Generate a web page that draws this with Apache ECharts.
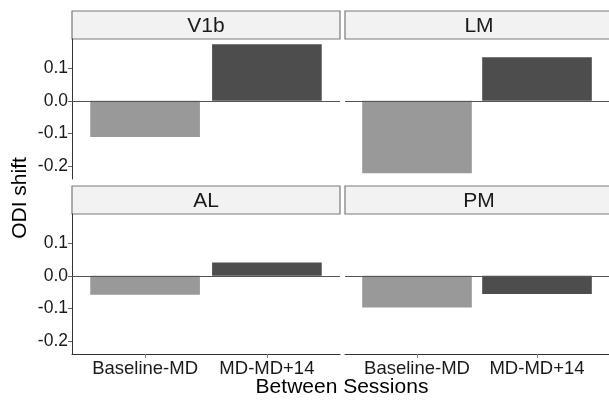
<!DOCTYPE html>
<html>
<head>
<meta charset="utf-8">
<script src="https://cdn.jsdelivr.net/npm/echarts@6/dist/echarts.min.js"></script>
<style>
  html, body { margin: 0; padding: 0; background: #ffffff; }
  #chart { width: 609px; height: 400px; }
</style>
</head>
<body>
<div id="chart"></div>
<script>
// ---- data ----
const panels = ['V1b', 'LM', 'AL', 'PM'];
const categories = ['Baseline-MD', 'MD-MD+14'];
const baselineMD = [-0.111, -0.222, -0.058, -0.097];
const mdToMD14 = [0.174, 0.134, 0.041, -0.056];
const yTicks = [-0.2, -0.1, 0.0, 0.1];
const xTitle = 'Between Sessions';
const yTitle = 'ODI shift';

// ---- layout ----
const FONT = "'Liberation Sans', Arial, sans-serif";
const colLeft = [72, 345];
const rowTop = [39, 214];
const GRID_W = 268, GRID_H = 140, STRIP_H = 28;
const X_MIN = 0.4, X_MAX = 2.6;
const Y_MIN = -0.24, Y_MAX = 0.19;
const barColors = ['#999999', '#4d4d4d'];
const barWidth = 0.9 * GRID_W / (X_MAX - X_MIN);

const grids = [], xAxes = [], yAxes = [], series = [], graphics = [];
panels.forEach((name, i) => {
  const col = i % 2, row = Math.floor(i / 2);
  const left = colLeft[col], top = rowTop[row];
  const showX = row === 1, showY = col === 0;
  grids.push({ left: left, top: top, width: GRID_W, height: GRID_H, containLabel: false, show: false });
  xAxes.push({
    gridIndex: i, type: 'value', min: X_MIN, max: X_MAX,
    show: showX,
    position: 'bottom',
    splitLine: { show: false },
    axisLine: { show: true, onZero: false, lineStyle: { color: '#333333', width: 1 } },
    axisTick: { show: true, length: 4, customValues: [1, 2], lineStyle: { color: '#888888' } },
    axisLabel: {
      show: true, customValues: [1, 2], margin: 5,
      fontSize: 18.5, fontFamily: FONT, color: '#1a1a1a',
      formatter: v => categories[Math.round(v) - 1] || ''
    }
  });
  yAxes.push({
    gridIndex: i, type: 'value', min: Y_MIN, max: Y_MAX,
    show: showY,
    splitLine: { show: false },
    axisLine: { show: showY, onZero: false, lineStyle: { color: '#333333', width: 1 } },
    axisTick: { show: showY, length: 4, customValues: yTicks, lineStyle: { color: '#666666' } },
    axisLabel: {
      show: showY, customValues: yTicks, margin: 4,
      fontSize: 17.5, fontFamily: FONT, color: '#1a1a1a',
      formatter: v => v.toFixed(1)
    }
  });
  series.push({
    type: 'bar', xAxisIndex: i, yAxisIndex: i, barWidth: barWidth,
    data: [
      { value: [1, baselineMD[i]], itemStyle: { color: barColors[0] } },
      { value: [2, mdToMD14[i]], itemStyle: { color: barColors[1] } }
    ],
    markLine: {
      silent: true, symbol: 'none', animation: false,
      label: { show: false },
      lineStyle: { color: '#555555', width: 1, type: 'solid' },
      data: [{ yAxis: 0 }]
    }
  });
  graphics.push({
    type: 'rect',
    shape: { x: left, y: top - STRIP_H, width: GRID_W, height: STRIP_H },
    style: { fill: '#f2f2f2', stroke: '#7a7a7a', lineWidth: 1.2 }
  });
  graphics.push({
    type: 'text',
    style: {
      x: left + GRID_W / 2, y: top - STRIP_H / 2 + 1, text: name,
      textAlign: 'center', textVerticalAlign: 'middle',
      align: 'center', verticalAlign: 'middle',
      fontSize: 21, fontFamily: FONT, fill: '#1a1a1a'
    }
  });
});

graphics.push({
  type: 'text',
  style: {
    x: 342, y: 387, text: xTitle,
    textAlign: 'center', textVerticalAlign: 'middle',
    align: 'center', verticalAlign: 'middle',
    fontSize: 21, fontFamily: FONT, fill: '#000000'
  }
});
graphics.push({
  type: 'text',
  x: 20, y: 198, rotation: Math.PI / 2,
  style: {
    x: 0, y: 0, text: yTitle,
    textAlign: 'center', textVerticalAlign: 'middle',
    align: 'center', verticalAlign: 'middle',
    fontSize: 21, fontFamily: FONT, fill: '#000000'
  }
});

const chart = echarts.init(document.getElementById('chart'), null, { renderer: 'canvas' });
chart.setOption({
  animation: false,
  backgroundColor: '#ffffff',
  grid: grids,
  xAxis: xAxes,
  yAxis: yAxes,
  series: series,
  graphic: graphics
});
</script>
</body>
</html>
